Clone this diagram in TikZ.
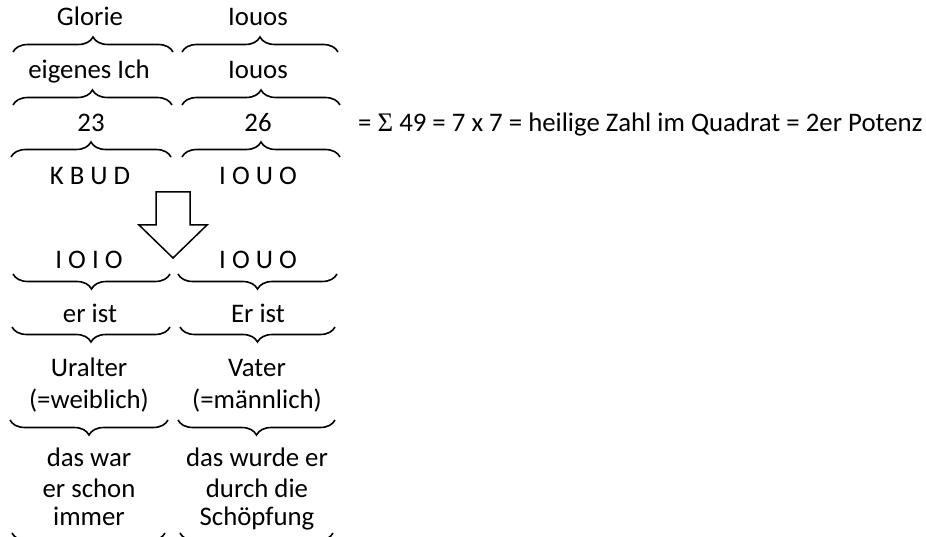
\documentclass[tikz,border=0pt]{standalone}
\usepackage{fontspec}
\setmainfont{Carlito}
\newfontfamily\sigmafont{Liberation Serif}
\usetikzlibrary{decorations.pathreplacing}
\tikzset{
  lbl/.style={anchor=base, inner sep=0pt, font=\fontsize{26.8}{31}\selectfont},
  bup/.style={draw, line width=1.6pt, decorate, decoration={brace, amplitude=15pt}},
  bdown/.style={draw, line width=1.6pt, decorate, decoration={brace, amplitude=15pt, mirror}},
  blockarrow/.style={draw, line width=1.5pt, fill=white, line join=miter}
}
\begin{document}
\begin{tikzpicture}[x=1pt, y=-1pt]
\useasboundingbox (0,0) rectangle (926,537);
\clip (0,0) rectangle (926,537);
% left column
\node[lbl] (l1) at (90,26) {Glorie};
\node[lbl] (l2) at (89,79) {eigenes Ich};
\node[lbl] (l3) at (91,132) {23};
\node[lbl] (l4) at (90,185) {K B U D};
\node[lbl] (l5) at (89,269) {I O I O};
\node[lbl] (l6) at (90,323) {er ist};
\node[lbl] (l7) at (89,376) {Uralter};
\node[lbl] (l8) at (89,408) {(=weiblich)};
\node[lbl] (l9) at (89,466) {das war};
\node[lbl] (l10) at (89,497) {er schon};
\node[lbl] (l11) at (89,525) {immer};
% right column
\node[lbl] (r1) at (258,26) {Iouos};
\node[lbl] (r2) at (258,79) {Iouos};
\node[lbl] (r3) at (258,132) {26};
\node[lbl] (r4) at (258,185) {I O U O};
\node[lbl] (r5) at (258,269) {I O U O};
\node[lbl] (r6) at (258,323) {Er ist};
\node[lbl] (r7) at (257,376) {Vater};
\node[lbl] (r8) at (257,408) {(=männlich)};
\node[lbl] (r9) at (257,466) {das wurde er};
\node[lbl] (r10) at (257,497) {durch die};
\node[lbl] (r11) at (257,525) {Schöpfung};
% sum text
\node[lbl, anchor=base west] (sum) at (358,132) {= {\sigmafont Σ} 49 = 7 x 7 = heilige Zahl im Quadrat = 2er Potenz};
% braces tip up
\draw[bup] (13,52) -- (173,52);
\draw[bup] (182,52) -- (338,52);
\draw[bup] (13,105) -- (172,105);
\draw[bup] (182,105) -- (340,105);
\draw[bup] (11,157) -- (171,157);
\draw[bup] (182,157) -- (340,157);
% braces tip down
\draw[bdown] (13,274) -- (170,274);
\draw[bdown] (178,274) -- (337,274);
\draw[bdown] (12,327) -- (170,327);
\draw[bdown] (180,327) -- (335,327);
\draw[bdown] (10,420) -- (168,420);
\draw[bdown] (178,420) -- (335,420);
\draw[bdown] (12,533) -- (165,533);
\draw[bdown] (180,533) -- (333,533);
% block arrow
\draw[blockarrow] (156,192) -- (190,192) -- (190,225) -- (207,225) -- (173,258) -- (139,225) -- (156,225) -- cycle;
\end{tikzpicture}
\end{document}
